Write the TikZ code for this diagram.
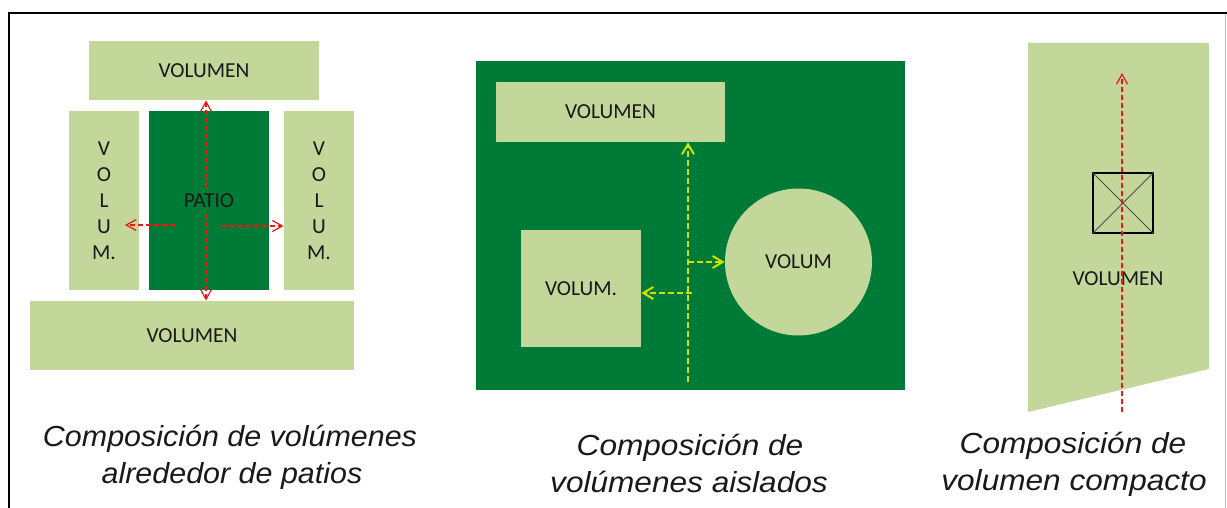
\documentclass[tikz,border=0pt]{standalone}
\usepackage{fontspec}
\setmainfont{Carlito}
\newfontfamily\capfont{Liberation Sans}
\usetikzlibrary{arrows.meta}
\definecolor{lightvol}{RGB}{196,215,155}
\definecolor{patiogreen}{RGB}{0,122,55}
\definecolor{guideyellow}{RGB}{206,226,0}
\definecolor{axisred}{RGB}{240,20,20}

\begin{document}
\begin{tikzpicture}[x=0.5pt, y=-0.5pt,
  every node/.style={inner sep=0pt, text=black!90, font=\fontsize{10.7}{13}\selectfont},
  vol/.style={fill=lightvol},
  patio/.style={fill=patiogreen},
  redaxis/.style={draw=axisred, line width=0.6pt, dash pattern=on 2.5pt off 1.5pt, >={Straight Barb[length=5pt,width=5.5pt]}},
  yellowaxis/.style={draw=guideyellow, line width=1pt, dash pattern=on 3pt off 1.5pt, >={Straight Barb[length=5pt,width=6pt]}},
  caption/.style={anchor=base, font=\capfont\itshape\fontsize{14.5}{17}\selectfont}]
\useasboundingbox (0,0) rectangle (1227,508);
\draw[line width=1pt] (8.5,508) -- (8.5,13) -- (1227,13);
\draw[black!25, line width=0.5pt] (1225.5,14) -- (1225.5,508);

% volumenes alrededor de patios
\coordinate (A) at (204,70.5);
\coordinate (B) at (104,200.5);
\coordinate (C) at (209,200.5);
\coordinate (D) at (319,200.5);
\coordinate (E) at (192,335.5);
\node[vol, minimum width=115pt, minimum height=29.5pt] (topvol) at (A) {VOLUMEN};
\node[vol, minimum width=35pt, minimum height=89.5pt, align=center] (lvol) at (B) {V\\O\\L\\U\\M.};
\node[patio, minimum width=60pt, minimum height=89.5pt] (patio) at (C) {};
\node[vol, minimum width=35pt, minimum height=89.5pt, align=center] (rvol) at (D) {V\\O\\L\\U\\M.};
\node[vol, minimum width=162pt, minimum height=34.5pt] (botvol) at (E) {VOLUMEN};

\coordinate (pv) at (206,200);
\coordinate (pl) at (175,225);
\coordinate (ltip) at (125,225);
\coordinate (pr) at (222,226);
\draw[redaxis, <->] (pv |- topvol.south) -- (pv |- botvol.north);
\draw[redaxis, ->] (pl) -- (ltip);
\draw[redaxis, ->] (pr) -- (pr -| rvol.west);
\node[patio, inner sep=3pt] (patiolabel) at (209,201) {PATIO};

% volumenes aislados
\coordinate (F) at (690.5,225.5);
\coordinate (G) at (610.5,112);
\coordinate (H) at (581,288.5);
\coordinate (I) at (798.5,262);
\node[patio, minimum width=214.5pt, minimum height=164.5pt] (site) at (F) {};
\node[vol, minimum width=114.5pt, minimum height=30pt] (vtop) at (G) {VOLUMEN};
\node[vol, minimum width=60pt, minimum height=58.5pt] (vsq) at (H) {VOLUM.};
\node[vol, circle, minimum size=73.5pt] (vcirc) at (I) {VOLUM};

\coordinate (ys) at (688,382);
\coordinate (yr) at (688,262);
\coordinate (yl) at (692,293);
\draw[yellowaxis, ->] (ys) -- (ys |- vtop.south);
\draw[yellowaxis, ->] (yr) -- (vcirc.west);
\draw[yellowaxis, ->] (yl) -- (yl -| vsq.east);

% volumen compacto
\fill[lightvol] (1028,43) -- (1209,43) -- (1209,369) -- (1028,412) -- cycle;
\node[draw=black, line width=0.6pt, minimum size=30pt] (core) at (1123,203) {};
\draw[black!70, line width=0.45pt] (core.north west) -- (core.south east);
\draw[black!70, line width=0.45pt] (core.north east) -- (core.south west);
\node (cvol) at (1118,279) {VOLUMEN};
\coordinate (cs) at (1122,412);
\coordinate (ct) at (1122,73);
\draw[redaxis, ->] (cs) -- (ct);

% titulos
\node[caption] (cap1a) at (230,446) {\scalebox{1.05}[1]{Composición de volúmenes}};
\node[caption] (cap1b) at (232,483) {\scalebox{1.05}[1]{alrededor de patios}};
\node[caption] (cap2a) at (690,455) {\scalebox{1.09}[1]{Composición de}};
\node[caption] (cap2b) at (689,492) {\scalebox{1.09}[1]{volúmenes aislados}};
\node[caption] (cap3a) at (1073,453) {\scalebox{1.09}[1]{Composición de}};
\node[caption] (cap3b) at (1074,490) {\scalebox{1.09}[1]{volumen compacto}};
\end{tikzpicture}
\end{document}
